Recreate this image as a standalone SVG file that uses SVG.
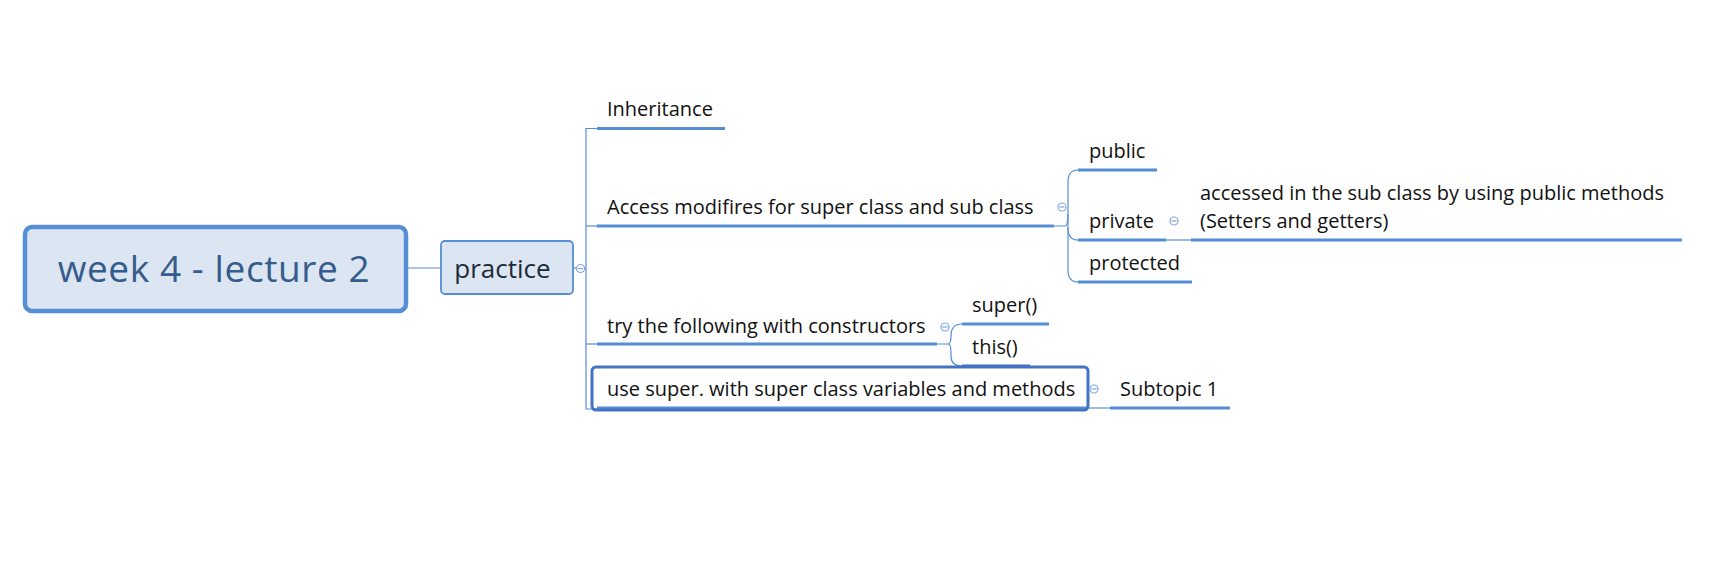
<svg xmlns="http://www.w3.org/2000/svg" width="1735" height="561" viewBox="0 0 1735 561">
<style>
.t{font-family:"Open Sans","Liberation Sans",sans-serif;font-size:20px;fill:#111}
.ul{stroke:#558ed5;stroke-width:3;fill:none}
.cn{stroke:#558ed5;stroke-width:1.2;fill:none}
.col{fill:#fff;stroke:#7ea6dc;stroke-width:1.2}
.colm{stroke:#7ea6dc;stroke-width:1.2}
</style>
<rect width="1735" height="561" fill="#fff"/>
<g id="connectors">
<line class="cn" x1="406" y1="268" x2="440" y2="268"/>
<line class="cn" x1="573" y1="268" x2="586" y2="268"/>
<path class="cn" d="M597,128.5 H586 V409 H597"/>
<line class="cn" x1="586" y1="226" x2="597" y2="226"/>
<line class="cn" x1="586" y1="344" x2="597" y2="344"/>
<path class="cn" d="M1054,226 H1065 Q1068,226 1068,214 V182 Q1068,170 1078,170"/>
<path class="cn" d="M1068,214 V228 Q1068,240 1078,240"/>
<path class="cn" d="M1068,228 V270 Q1068,282 1078,282"/>
<line class="cn" x1="1166" y1="240" x2="1191" y2="240"/>
<path class="cn" d="M937,344 H948 Q951,344 951,336 Q951,324 962,324"/>
<path class="cn" d="M948,344 Q951,344 951,352 V356 Q951,366 962,366"/>
<line class="cn" x1="1088" y1="408" x2="1110" y2="408"/>
</g>
<g id="central">
<rect x="25" y="227" width="381" height="84" rx="7" fill="#dce6f2" stroke="#558ed5" stroke-width="4.5"/>
<text x="214" y="281.5" text-anchor="middle" style="font-family:'Open Sans','Liberation Sans',sans-serif;font-size:37px;font-weight:500;letter-spacing:0.6px;fill:#355c8c">week 4 - lecture 2</text>
</g>
<g id="practice">
<rect x="441" y="241" width="132" height="53" rx="4" fill="#dce6f2" stroke="#558ed5" stroke-width="1.8"/>
<text x="502.5" y="278" text-anchor="middle" style="font-family:'Open Sans','Liberation Sans',sans-serif;font-size:26px;fill:#1e2a3a">practice</text>
<circle class="col" cx="580.5" cy="268.5" r="4"/><line class="colm" x1="578" y1="268.5" x2="583" y2="268.5"/>
</g>
<g id="inheritance">
<text class="t" x="607" y="116">Inheritance</text>
<line class="ul" x1="597" y1="128.5" x2="725" y2="128.5"/>
</g>
<g id="access">
<text class="t" x="607" y="214">Access modifires for super class and sub class</text>
<line class="ul" x1="597" y1="226" x2="1054" y2="226"/>
<circle class="col" cx="1062" cy="207" r="4"/><line class="colm" x1="1059.5" y1="207" x2="1064.5" y2="207"/>
</g>
<g id="public">
<text class="t" x="1089" y="158">public</text>
<line class="ul" x1="1078" y1="170" x2="1157" y2="170"/>
</g>
<g id="private">
<text class="t" x="1089" y="228">private</text>
<line class="ul" x1="1078" y1="240" x2="1166" y2="240"/>
<circle class="col" cx="1174" cy="221" r="4"/><line class="colm" x1="1171.5" y1="221" x2="1176.5" y2="221"/>
</g>
<g id="accessed">
<text class="t" x="1200" y="200">accessed in the sub class by using public methods</text>
<text class="t" x="1200" y="228">(Setters and getters)</text>
<line class="ul" x1="1191" y1="240" x2="1682" y2="240"/>
</g>
<g id="protected">
<text class="t" x="1089" y="270">protected</text>
<line class="ul" x1="1078" y1="282" x2="1192" y2="282"/>
</g>
<g id="try">
<text class="t" x="607" y="333">try the following with constructors</text>
<line class="ul" x1="597" y1="344" x2="937" y2="344"/>
<circle class="col" cx="945" cy="327" r="4"/><line class="colm" x1="942.5" y1="327" x2="947.5" y2="327"/>
</g>
<g id="super">
<text class="t" x="972" y="312">super()</text>
<line class="ul" x1="962" y1="324" x2="1049" y2="324"/>
</g>
<g id="this">
<text class="t" x="972" y="354">this()</text>
<line class="ul" x1="962" y1="366" x2="1030" y2="366" style="stroke:#3f6fc0"/>
</g>
<g id="usesuper">
<line class="ul" x1="597" y1="408" x2="1087" y2="408"/>
<rect x="592" y="367" width="496" height="43" rx="4" fill="none" stroke="#4472c4" stroke-width="3"/>
<text class="t" x="607" y="396">use super. with super class variables and methods</text>
<circle class="col" cx="1094" cy="389" r="4"/><line class="colm" x1="1091.5" y1="389" x2="1096.5" y2="389"/>
</g>
<g id="subtopic1">
<text class="t" x="1120" y="396">Subtopic 1</text>
<line class="ul" x1="1110" y1="408" x2="1230" y2="408"/>
</g>
</svg>
